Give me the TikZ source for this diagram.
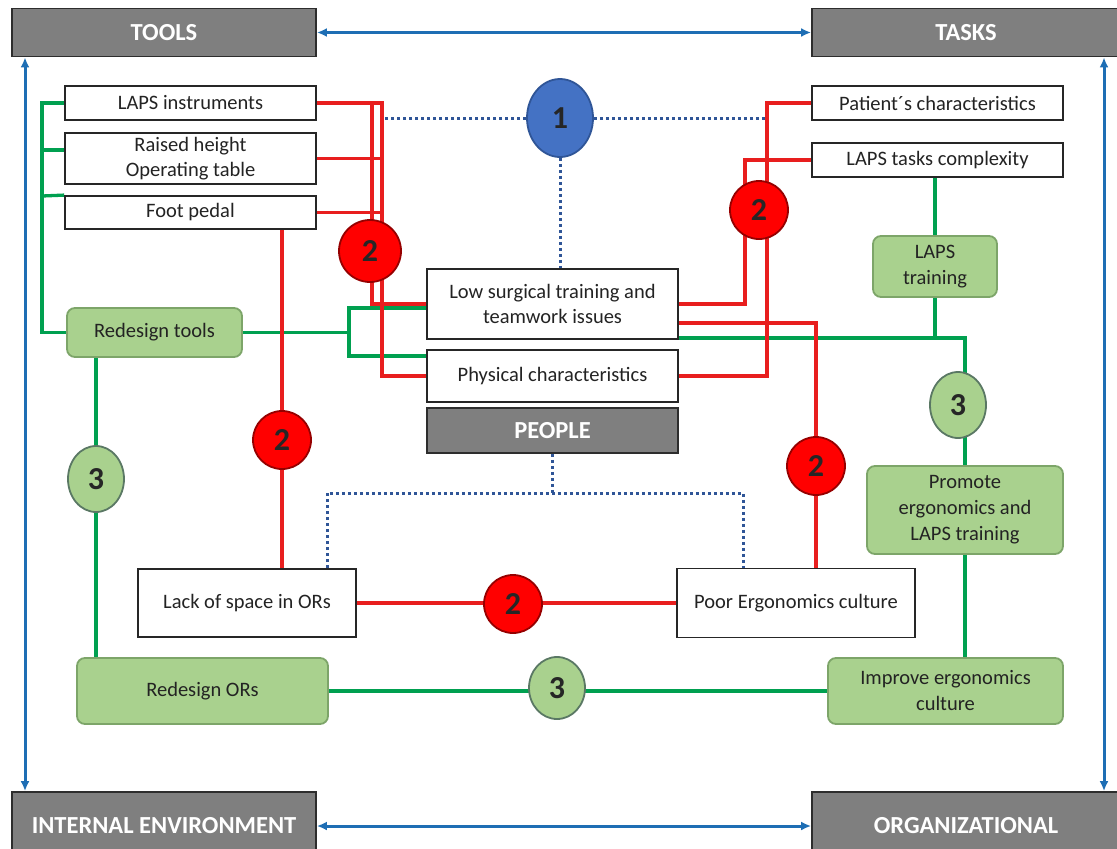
\documentclass[tikz,border=0pt]{standalone}
\usepackage{fontspec}
\setmainfont{Carlito}
\usetikzlibrary{shapes.geometric,arrows.meta,backgrounds}
\definecolor{gfill}{RGB}{169,209,142}
\definecolor{gdraw}{RGB}{125,165,105}
\definecolor{gline}{RGB}{0,160,80}
\definecolor{rline}{RGB}{232,30,30}
\definecolor{rfill}{RGB}{255,0,0}
\definecolor{rdraw}{RGB}{150,0,0}
\definecolor{bfill}{RGB}{68,114,196}
\definecolor{bdraw}{RGB}{47,85,151}
\definecolor{barr}{RGB}{30,110,180}
\definecolor{dotc}{RGB}{47,85,151}
\definecolor{grayf}{RGB}{127,127,127}
\definecolor{grayd}{RGB}{45,45,45}
\definecolor{txt}{RGB}{35,35,35}
\definecolor{c3draw}{RGB}{90,120,100}
\begin{document}
\begin{tikzpicture}[x=1pt,y=-1pt,
  wbox/.style={draw=black!85, fill=white, line width=1.8pt, text=txt, font=\fontsize{20.5}{25}\selectfont, align=center, inner sep=0pt},
  gbox/.style={draw=gdraw, fill=gfill, line width=1.8pt, rounded corners=8pt, text=txt, font=\fontsize{20.5}{26}\selectfont, align=center, inner sep=0pt},
  hbox/.style={draw=grayd, fill=grayf, line width=1.8pt, text=white, font=\fontsize{24.5}{28}\selectfont\bfseries, inner sep=0pt},
  rc/.style={circle, draw=rdraw, fill=rfill, line width=1.8pt, minimum size=58pt, inner sep=0pt, font=\fontsize{32}{32}\selectfont\bfseries, text=black!85},
  gc/.style={ellipse, draw=c3draw, fill=gfill, line width=1.8pt, minimum width=56pt, minimum height=66pt, inner sep=0pt, font=\fontsize{32}{32}\selectfont\bfseries, text=black!85},
  redl/.style={draw=rline, line width=3.3pt},
  greenl/.style={draw=gline, line width=3.3pt},
  dotl/.style={draw=dotc, line width=3pt, dash pattern=on 3pt off 3pt},
  barrow/.style={draw=barr, line width=3pt, {Latex[length=10pt,width=9pt]}-{Latex[length=10pt,width=9pt]}}
]
\useasboundingbox (0,0) rectangle (1117,849);

% header boxes
\node[hbox, minimum width=304pt, minimum height=48pt] (tools) at (164,32.5) {TOOLS};
\node[hbox, minimum width=308pt, minimum height=48pt] (tasks) at (966,32.5) {TASKS};
\node[hbox, minimum width=304pt, minimum height=68pt] (ienv) at (164,826) {INTERNAL ENVIRONMENT};
\node[hbox, minimum width=308pt, minimum height=68pt] (org) at (966,826) {ORGANIZATIONAL};
\node[hbox, minimum width=251pt, minimum height=45pt] (people) at (552.5,430.5) {PEOPLE};

% white boxes
\node[wbox, minimum width=251pt, minimum height=34pt] (inst) at (190.5,103) {LAPS instruments};
\node[wbox, minimum width=251pt, minimum height=51pt] (raised) at (190.5,158.5) {Raised height\\Operating table};
\node[wbox, minimum width=251pt, minimum height=33pt] (foot) at (190.5,212.5) {Foot pedal};
\node[wbox, minimum width=251pt, minimum height=70pt] (low) at (552.5,304) {Low surgical training and\\teamwork issues};
\node[wbox, minimum width=251pt, minimum height=52pt] (phys) at (552.5,376) {Physical characteristics};
\node[wbox, minimum width=251pt, minimum height=34pt] (patient) at (937.5,103) {Patient´s characteristics};
\node[wbox, minimum width=251pt, minimum height=34pt] (complexity) at (937.5,160) {LAPS tasks complexity};
\node[wbox, minimum width=218pt, minimum height=68pt] (lack) at (247,603) {Lack of space in ORs};
\node[wbox, minimum width=238pt, minimum height=69pt] (poor) at (796,603) {Poor Ergonomics culture};

% green boxes
\node[gbox, minimum width=175pt, minimum height=49pt] (rtools) at (154.5,332.5) {Redesign tools};
\node[gbox, minimum width=124pt, minimum height=61pt] (ltrain) at (935,266.5) {LAPS\\training};
\node[gbox, minimum width=196pt, minimum height=88pt] (promote) at (965,510) {Promote\\ergonomics and\\LAPS training};
\node[gbox, minimum width=235pt, minimum height=66pt] (improve) at (945.5,691) {Improve ergonomics\\culture};
\node[gbox, minimum width=251pt, minimum height=66pt] (rors) at (202.5,691) {Redesign ORs};

% circles
\node[ellipse, draw=bdraw, fill=bfill, line width=1.8pt, minimum width=66pt, minimum height=78pt, inner sep=0pt, font=\fontsize{32}{32}\selectfont\bfseries, text=black!85] (c1) at (560,118) {1};
\node[rc, minimum size=62pt] (c2a) at (370,251) {2};
\node[rc] (c2b) at (282,440) {2};
\node[rc] (c2c) at (759,210) {2};
\node[rc] (c2d) at (816,466) {2};
\node[rc] (c2e) at (513,604) {2};
\node[gc] (c3a) at (96,479) {3};
\node[gc] (c3r) at (958,405) {3};
\node[gc, minimum height=62pt] (c3b) at (557,688) {3};

% named free ends
\coordinate (lx) at (25,0);
\coordinate (rx) at (1104,0);
\coordinate (d1) at (385,118);
\coordinate (d2) at (765,118);
\coordinate (pl) at (327,493);
\coordinate (pr) at (743,493);
\coordinate (ra) at (372,103);
\coordinate (rb) at (382,103);
\coordinate (rc) at (767,0);
\coordinate (rd) at (745,0);
\coordinate (rr) at (678,323);
\coordinate (gx) at (42,0);
\coordinate (g2) at (42,150);
\coordinate (g3) at (42,196);
\coordinate (gb1) at (349,308);
\coordinate (gb2) at (349,356);
\coordinate (gr) at (965,338);

\begin{scope}[on background layer]
\fill[white] (0,0) rectangle (1117,849);
% blue arrows
\draw[barrow] (tools.east) -- (tasks.west);
\draw[barrow] (ienv.east) -- (org.west);
\draw[barrow] (tools.south -| lx) -- (ienv.north -| lx);
\draw[barrow] (tasks.south -| rx) -- (org.north -| rx);
% dotted
\draw[dotl] (c1.west) -- (d1);
\draw[dotl] (c1.east) -- (d2);
\draw[dotl] (c1.south) -- (c1.south |- low.north);
\draw[dotl] (people.south) -- (people.south |- pl);
\draw[dotl] (pl |- lack.north) -- (pl) -- (pr) -- (pr |- poor.north);
% green
\draw[greenl] (inst.west) -- (inst.west -| gx) -- (rtools.west -| gx) -- (rtools.west);
\draw[greenl] (g2) -- (g2 -| raised.west);
\draw[greenl] (g3) -- (foot.north west);
\draw[greenl] (rtools.east) -- (rtools.east -| gb1);
\draw[greenl] (gb1 -| low.west) -- (gb1) -- (gb2) -- (gb2 -| phys.west);
\draw[greenl] (gr -| low.east) -- (gr) -- (gr |- promote.north);
\draw[greenl] (ltrain.north |- complexity.south) -- (ltrain.north);
\draw[greenl] (ltrain.south) -- (ltrain.south |- gr);
\draw[greenl] (promote.south) -- (promote.south |- improve.north);
\draw[greenl] (improve.west) -- (rors.east);
\draw[greenl] (c3a |- rtools.south) -- (c3a |- rors.north);
% red
\draw[redl] (inst.east) -- (rb) |- (phys.west);
\draw[redl] (ra) |- (low.west);
\draw[redl] (raised.east) -- (raised.east -| rb);
\draw[redl] (foot.east) -- (foot.east -| rb);
\draw[redl] (foot.south -| c2b) -- (lack.north -| c2b);
\draw[redl] (lack.east) -- (poor.west);
\draw[redl] (patient.west) -| (rc |- phys.east) -- (phys.east);
\draw[redl] (complexity.west) -| (rd |- low.east) -- (low.east);
\draw[redl] (rr) -| (c2d) -- (c2d |- poor.north);
\end{scope}
\end{tikzpicture}
\end{document}
